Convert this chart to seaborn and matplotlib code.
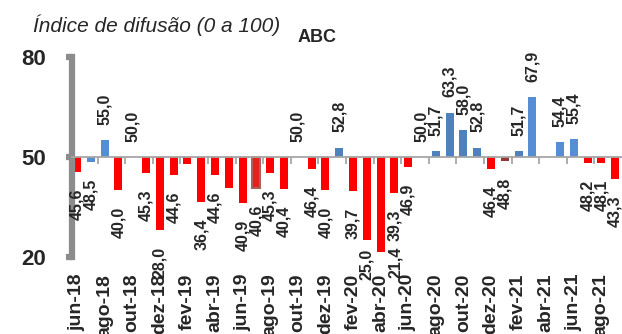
import numpy as np
import pandas as pd
import matplotlib
matplotlib.use("Agg")
import matplotlib.pyplot as plt
import seaborn as sns

# months jun-18 .. set-21
meses = ["jun-18", "jul-18", "ago-18", "set-18", "out-18", "nov-18", "dez-18",
         "jan-19", "fev-19", "mar-19", "abr-19", "mai-19", "jun-19", "jul-19",
         "ago-19", "set-19", "out-19", "nov-19", "dez-19", "jan-20", "fev-20",
         "mar-20", "abr-20", "mai-20", "jun-20", "jul-20", "ago-20", "set-20",
         "out-20", "nov-20", "dez-20", "jan-21", "fev-21", "mar-21", "abr-21",
         "mai-21", "jun-21", "jul-21", "ago-21", "set-21"]

# bar heights (diffusion index)
valores = [45.6, 48.5, 55.0, 40.0, 50.0, 45.3, 28.0,
           44.6, 47.8, 36.4, 44.6, 40.7, 36.3, 40.6,
           45.3, 40.4, 50.0, 46.4, 40.0, 52.8, 39.7,
           25.0, 21.4, 39.3, 46.9, 50.0, 51.7, 63.3,
           58.0, 52.8, 46.4, 48.8, 51.7, 67.9, np.nan,
           54.4, 55.4, 48.2, 48.1, 43.3]

# data labels as printed on the chart (None = not shown)
rotulos = ["45,6", "48,5", "55,0", "40,0", "50,0", "45,3", "28,0",
           "44,6", None, "36,4", "44,6", None, "40,9", "40,6",
           "45,3", "40,4", "50,0", "46,4", "40,0", "52,8", "39,7",
           "25,0", "21,4", "39,3", "46,9", "50,0", "51,7", "63,3",
           "58,0", "52,8", "46,4", "48,8", "51,7", "67,9", None,
           "54,4", "55,4", "48,2", "48,1", "43,3"]

rotulos_x = meses[::2]

# labels that were moved by hand in the original (offset in points)
deslocados = {"mar-20": (0, -6), "abr-20": (11, 4)}

sns.set_style("white")
plt.rcParams["font.family"] = ["Liberation Sans", "DejaVu Sans"]

AZUL = "#558ED5"
AZUL_ESC = "#4F81BD"
VERMELHO = "#FF0000"

cores = {}
for m, v in zip(meses, valores):
    cores[m] = AZUL if (not np.isnan(v) and v >= 50) else VERMELHO
cores["jul-18"] = AZUL
for m in ["ago-20", "set-20", "out-20", "nov-20", "fev-21", "jan-20"]:
    cores[m] = AZUL_ESC
cores["jan-21"] = "#953735"
cores["jul-19"] = "#E8201C"

df = pd.DataFrame({"mes": meses, "valor": valores})
df["desvio"] = df["valor"] - 50

fig = plt.figure(figsize=(6.22, 3.34), dpi=100)
ax = fig.add_axes([72 / 622, 77 / 334, 550 / 622, 200 / 334])

sns.barplot(data=df, x="mes", y="desvio", hue="mes", order=meses,
            palette=cores, legend=False, width=0.58, bottom=50, ax=ax,
            linewidth=0, saturation=1)

# outlined bar (jul-19)
for p in ax.patches:
    idx = int(round(p.get_x() + p.get_width() / 2))
    if meses[idx] == "jul-19":
        p.set_edgecolor("#A8625E")
        p.set_linewidth(1.5)

ax.set_xlim(-0.36, 39.5)
ax.set_ylim(20, 80)
ax.set_xlabel("")
ax.set_ylabel("")

# y axis
ax.set_yticks([20, 50, 80])
ax.set_yticklabels(["20", "50", "80"], fontsize=16, fontweight="bold")
ax.tick_params(axis="y", left=True, length=4.5, width=4.5, color="#8C8C8C", pad=14)
ax.spines["left"].set_color("#8C8C8C")
ax.spines["left"].set_linewidth(4.5)
ax.spines["right"].set_visible(False)
ax.spines["top"].set_visible(False)

# horizontal axis sits at 50, ticks every two months between bars
ax.spines["bottom"].set_position(("data", 50))
ax.spines["bottom"].set_color("#A6A6A6")
ax.spines["bottom"].set_linewidth(1.3)
ax.set_xticks(np.arange(1.5, len(meses) - 1, 2))
ax.set_xticklabels([])
ax.tick_params(axis="x", bottom=True, direction="out", length=5, width=1.3,
               color="#A6A6A6")

sec = ax.secondary_xaxis(0)
sec.set_xticks(np.arange(0, len(meses), 2))
sec.set_xticklabels(rotulos_x, rotation=90, fontsize=14, fontweight="bold")
sec.tick_params(length=0, pad=12)
sec.spines["bottom"].set_visible(False)

# data labels
for i, (m, v, r) in enumerate(zip(meses, valores, rotulos)):
    if r is None:
        continue
    if v >= 50:
        dx, dy = deslocados.get(m, (0, 11))
        va = "bottom"
    else:
        dx, dy = deslocados.get(m, (0, -12))
        va = "top"
    ax.annotate(r, (i, v), xytext=(dx, dy), textcoords="offset points",
                rotation=90, ha="center", va=va, fontsize=11.5,
                fontweight="bold", annotation_clip=False)

fig.text(33 / 622, 1 - 25 / 334, "Índice de difusão (0 a 100)", fontsize=15,
         style="italic", ha="left", va="center")
fig.text(317 / 622, 1 - 38 / 334, "ABC", fontsize=13, fontweight="bold",
         ha="center", va="center")

fig.savefig("out.png", dpi=100)
